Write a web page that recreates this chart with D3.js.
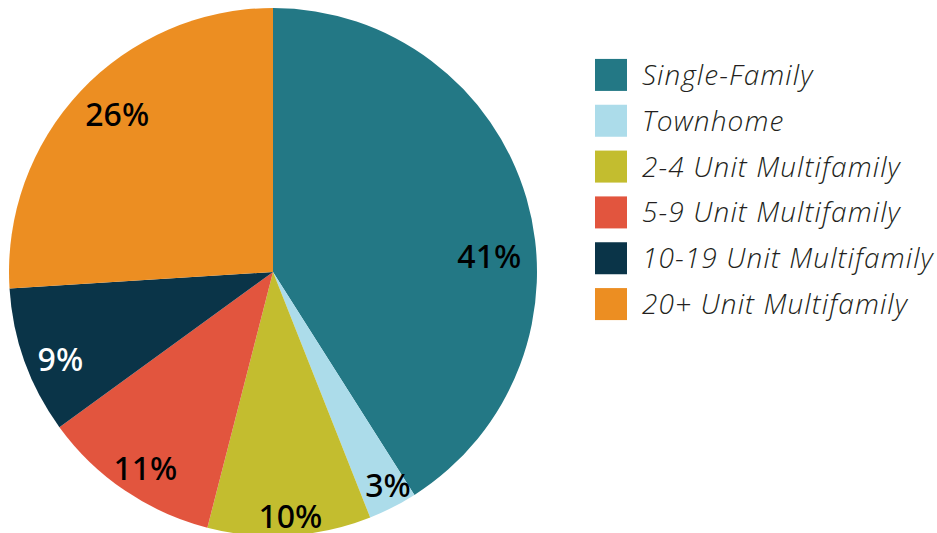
<!DOCTYPE html>
<html>
<head>
<meta charset="utf-8">
<script src="https://cdn.jsdelivr.net/npm/d3@7.9.0/dist/d3.min.js"></script>
<style>
  html, body { margin: 0; padding: 0; background: #fff; }
  svg { display: block; }
  .label { font-family: 'Noto Sans', sans-serif; font-weight: 500; font-size: 32px; }
  .legend text { font-family: 'Open Sans', sans-serif; font-style: italic; font-weight: 300; font-size: 28px; letter-spacing: 1.1px; fill: #231f20; }
</style>
</head>
<body>
<div id="chart"></div>
<script>
// chart data
const categories = ['Single-Family', 'Townhome', '2-4 Unit Multifamily', '5-9 Unit Multifamily', '10-19 Unit Multifamily', '20+ Unit Multifamily'];
const shares = [41, 3, 10, 11, 9, 26];
const colors = ['#237885', '#acdcea', '#c3bd2f', '#e2553e', '#0a3448', '#ec8e22'];
const labelColors = ['#000', '#000', '#000', '#000', '#fff', '#000'];

// label placement: [radius, angle nudge in degrees]
const labelLayout = [[217, 11.5], [241, -1.5], [243, -0.5], [233, -1], [229, -2], [223, 2.5]];

const width = 937;
const height = 533;
const cx = 273, cy = 272, radius = 264;

const svg = d3.select('#chart')
  .append('svg')
  .attr('width', width)
  .attr('height', height)
  .attr('viewBox', `0 0 ${width} ${height}`);

const rows = categories.map((name, i) => ({ name, value: shares[i], color: colors[i] }));

const pie = d3.pie().sort(null).value((d) => d.value);
const arcs = pie(rows);
const arc = d3.arc().innerRadius(0).outerRadius(radius);

const g = svg.append('g').attr('transform', `translate(${cx}, ${cy})`);

g.selectAll('path')
  .data(arcs)
  .join('path')
  .attr('d', arc)
  .attr('fill', (d) => d.data.color);

g.selectAll('text.label')
  .data(arcs)
  .join('text')
  .attr('class', 'label')
  .attr('text-anchor', 'middle')
  .attr('dominant-baseline', 'central')
  .attr('fill', (d, i) => labelColors[i])
  .attr('transform', (d, i) => {
    const [r, nudge] = labelLayout[i];
    const a = (d.startAngle + d.endAngle) / 2 + nudge * Math.PI / 180;
    return `translate(${r * Math.sin(a)}, ${-r * Math.cos(a) + 1})`;
  })
  .text((d) => d.data.value + '%');

// legend
const y = d3.scaleBand()
  .domain(categories)
  .range([52, 327])
  .paddingInner(0.3)
  .paddingOuter(0.15);

const legend = svg.append('g').attr('class', 'legend');
const item = legend.selectAll('g')
  .data(rows)
  .join('g')
  .attr('transform', (d) => `translate(595, ${y(d.name) + y.bandwidth() / 2})`);

item.append('rect')
  .attr('x', 0)
  .attr('y', -16)
  .attr('width', 32)
  .attr('height', 32)
  .attr('fill', (d) => d.color);

item.append('text')
  .attr('x', 47)
  .attr('y', 10)
  .text((d) => d.name);
</script>
</body>
</html>
